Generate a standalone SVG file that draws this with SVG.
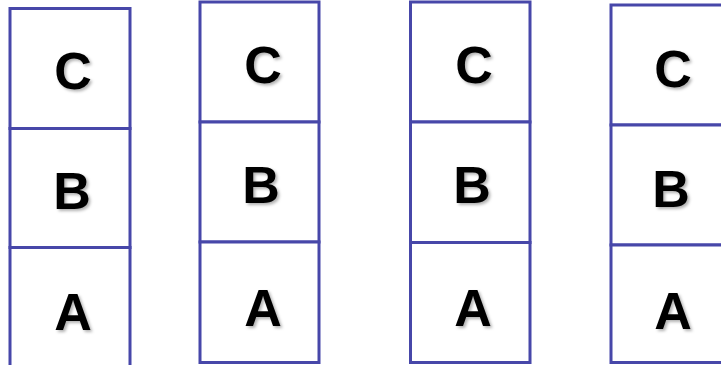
<svg xmlns="http://www.w3.org/2000/svg" width="721" height="365" viewBox="0 0 721 365">
<defs>
<style>
.cell{fill:#ffffff;stroke:#4747a9;stroke-width:3}
.lbl{font-family:"Liberation Sans",Arial,sans-serif;font-weight:bold;font-size:52px;fill:#000;text-anchor:middle;filter:url(#sh)}
</style>
<filter id="sh" x="-20%" y="-20%" width="140%" height="140%">
<feDropShadow dx="2" dy="2" stdDeviation="1.5" flood-color="#000" flood-opacity="0.3"/>
</filter>
</defs>
<rect width="721" height="365" fill="#ffffff"/>
<g id="s1">
<g id="s1c"><rect class="cell" x="10" y="8.5" width="120" height="120"/><text class="lbl" x="73" y="89">C</text></g>
<g id="s1b"><rect class="cell" x="10" y="128.5" width="120" height="119"/><text class="lbl" x="72" y="209">B</text></g>
<g id="s1a"><rect class="cell" x="10" y="247.5" width="120" height="125"/><text class="lbl" x="73" y="330">A</text></g>
</g>
<g id="s2">
<g id="s2c"><rect class="cell" x="200" y="2" width="119" height="120"/><text class="lbl" x="263" y="83">C</text></g>
<g id="s2b"><rect class="cell" x="200" y="122" width="119" height="120"/><text class="lbl" x="261" y="203">B</text></g>
<g id="s2a"><rect class="cell" x="200" y="242" width="119" height="120.5"/><text class="lbl" x="263" y="326">A</text></g>
</g>
<g id="s3">
<g id="s3c"><rect class="cell" x="410.5" y="2" width="119.5" height="120"/><text class="lbl" x="474" y="83">C</text></g>
<g id="s3b"><rect class="cell" x="410.5" y="122" width="119.5" height="120.5"/><text class="lbl" x="472" y="203">B</text></g>
<g id="s3a"><rect class="cell" x="410.5" y="242.5" width="119.5" height="120"/><text class="lbl" x="473" y="326">A</text></g>
</g>
<g id="s4">
<g id="s4c"><rect class="cell" x="611" y="5" width="120" height="120"/><text class="lbl" x="673" y="87">C</text></g>
<g id="s4b"><rect class="cell" x="611" y="125" width="120" height="120"/><text class="lbl" x="671" y="207">B</text></g>
<g id="s4a"><rect class="cell" x="611" y="245" width="120" height="117.5"/><text class="lbl" x="673" y="329">A</text></g>
</g>
<g id="connectors"></g>
</svg>
